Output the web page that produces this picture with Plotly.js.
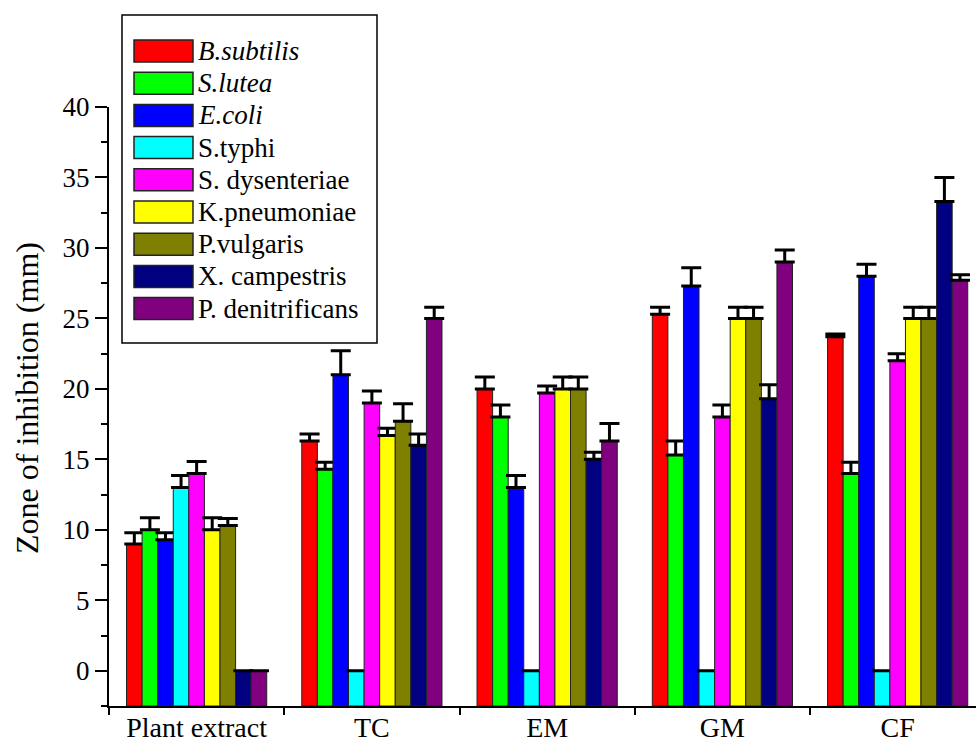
<!DOCTYPE html>
<html>
<head>
<meta charset="utf-8">
<script src="https://cdn.plot.ly/plotly-3.0.1.min.js"></script>
<style>html,body{margin:0;padding:0;background:#fff;}#chart{width:976px;height:744px;}</style>
</head>
<body>
<div id="chart"></div>
<script>
// ---- data ----
var categories = ['Plant extract', 'TC', 'EM', 'GM', 'CF'];
var seriesNames = ['<i>B.subtilis</i>', '<i>S.lutea</i>', '<i>E.coli</i>', 'S.typhi', 'S. dysenteriae', 'K.pneumoniae', 'P.vulgaris', 'X. campestris', 'P. denitrificans'];
var seriesColors = ['#FF0000', '#00FF00', '#0000FF', '#00FFFF', '#FF00FF', '#FFFF00', '#808000', '#000080', '#800080'];
var yTitle = 'Zone of inhibition (mm)';

var bSubtilis      = [9.0, 16.3, 20.0, 25.3, 23.7];
var bSubtilisErr   = [0.8, 0.5, 0.85, 0.5, 0.2];
var sLutea         = [10.0, 14.3, 18.0, 15.3, 14.0];
var sLuteaErr      = [0.85, 0.5, 0.85, 1.0, 0.8];
var eColi          = [9.3, 21.0, 13.0, 27.3, 28.0];
var eColiErr       = [0.5, 1.7, 0.85, 1.3, 0.85];
var sTyphi         = [13.0, 0, 0, 0, 0];
var sTyphiErr      = [0.85, null, null, null, null];
var sDysenteriae   = [14.0, 19.0, 19.7, 18.0, 22.0];
var sDysenteriaeErr= [0.85, 0.85, 0.5, 0.85, 0.5];
var kPneumoniae    = [10.0, 16.7, 20.0, 25.0, 25.0];
var kPneumoniaeErr = [0.85, 0.5, 0.85, 0.8, 0.8];
var pVulgaris      = [10.3, 17.7, 20.0, 25.0, 25.0];
var pVulgarisErr   = [0.5, 1.25, 0.85, 0.8, 0.8];
var xCampestris    = [0, 16.0, 15.0, 19.3, 33.3];
var xCampestrisErr = [null, 0.8, 0.5, 1.0, 1.7];
var pDenitrificans = [0, 25.0, 16.3, 29.0, 27.7];
var pDenitrificansErr = [null, 0.8, 1.25, 0.85, 0.4];

var allValues = [bSubtilis, sLutea, eColi, sTyphi, sDysenteriae, kPneumoniae, pVulgaris, xCampestris, pDenitrificans];
var allErrors = [bSubtilisErr, sLuteaErr, eColiErr, sTyphiErr, sDysenteriaeErr, kPneumoniaeErr, pVulgarisErr, xCampestrisErr, pDenitrificansErr];

// ---- layout constants ----
var W = 976, H = 744;
var M = {l: 109, r: 0, t: 107, b: 38};
var yMin = -2.5, yMax = 40;
var FONT = 'Liberation Serif';

// bars rise from the bottom of the axis (yMin)
var traces = allValues.map(function (vals, i) {
  return {
    type: 'bar',
    name: seriesNames[i],
    x: categories,
    y: vals.map(function (v) { return v - yMin; }),
    base: yMin,
    customdata: vals,
    hovertemplate: '%{x}: %{customdata}<extra>' + seriesNames[i] + '</extra>',
    marker: {color: seriesColors[i], line: {color: '#222', width: 1}},
    error_y: {
      type: 'data', symmetric: false,
      array: allErrors[i],
      arrayminus: allErrors[i].map(function (e) { return e === null ? null : 0; }),
      color: '#000', thickness: 3, width: 10
    },
    showlegend: false
  };
});

// ---- custom legend (pixel positions -> paper) ----
var pw = W - M.l - M.r, ph = H - M.t - M.b;
function px(x) { return (x - M.l) / pw; }
function py(y) { return (H - M.b - y) / ph; }

var shapes = [{
  type: 'rect', xref: 'paper', yref: 'paper',
  x0: px(122), x1: px(377), y0: py(343), y1: py(15),
  line: {color: '#000', width: 1.5}, fillcolor: '#fff'
}];
var annotations = [];
seriesNames.forEach(function (nm, i) {
  var cy = 51 + 32.2 * i;
  shapes.push({
    type: 'rect', xref: 'paper', yref: 'paper',
    x0: px(134), x1: px(193), y0: py(cy + 11), y1: py(cy - 11),
    line: {color: '#222', width: 1.5}, fillcolor: seriesColors[i]
  });
  annotations.push({
    xref: 'paper', yref: 'paper', x: px(196), y: py(cy),
    xanchor: 'left', yanchor: 'middle', showarrow: false,
    text: nm, font: {family: FONT, size: 27, color: '#000'}
  });
});

// y-axis title
annotations.push({
  xref: 'paper', yref: 'paper', x: px(27), y: py(398),
  xanchor: 'center', yanchor: 'middle', showarrow: false, textangle: -90,
  text: yTitle, font: {family: FONT, size: 32, color: '#000'}
});

var layout = {
  width: W, height: H,
  margin: M,
  paper_bgcolor: '#fff', plot_bgcolor: '#fff',
  barmode: 'group', bargap: 0.2, bargroupgap: 0,
  font: {family: FONT, color: '#000'},
  xaxis: {
    type: 'category', range: [-0.5, 4.447],
    showline: true, linecolor: '#000', linewidth: 2,
    ticks: 'outside', tickson: 'boundaries', ticklen: 7, tickwidth: 2, tickcolor: '#000',
    ticklabelstandoff: -5,
    tickfont: {family: FONT, size: 28, color: '#000'},
    showgrid: false, zeroline: false, fixedrange: true
  },
  yaxis: {
    range: [yMin, yMax], dtick: 5, tick0: 0,
    showline: true, linecolor: '#000', linewidth: 2,
    ticks: 'outside', ticklen: 12, tickwidth: 2, tickcolor: '#000',
    minor: {dtick: 2.5, tick0: 0, ticks: 'outside', ticklen: 6, tickwidth: 2, tickcolor: '#000'},
    tickfont: {family: FONT, size: 27, color: '#000'},
    showgrid: false, zeroline: false, fixedrange: true
  },
  shapes: shapes,
  annotations: annotations
};

Plotly.newPlot('chart', traces, layout, {displayModeBar: false, staticPlot: true});
</script>
</body>
</html>
